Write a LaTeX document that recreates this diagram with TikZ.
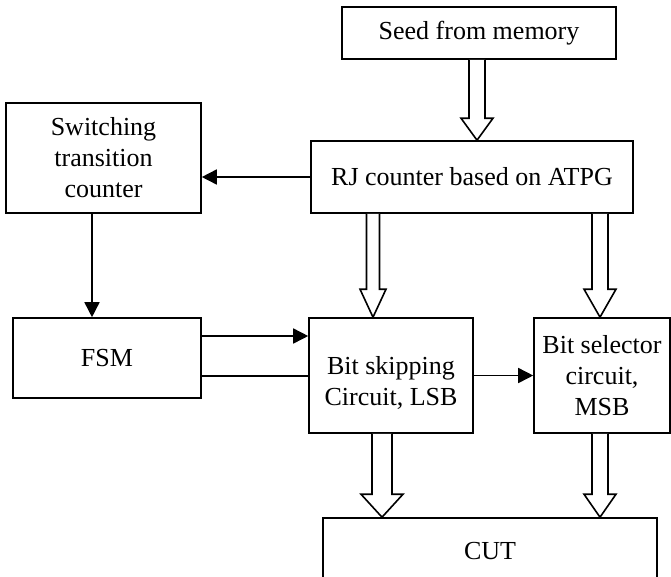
\documentclass[tikz,border=0pt]{standalone}
\usepackage{fontspec}
\setmainfont{Liberation Serif}
\usetikzlibrary{arrows.meta,calc}

% hollow block arrow pointing down: #1 start, #2 tip, #3 half shaft width,
% #4 half head width, #5 head length
\newcommand\fatarrow[5]{%
  \draw[blk, fill=white] let \p1=(#1), \p2=(#2) in
    (\x1-#3,\y1) -- (\x1-#3,\y2+#5) -- (\x1-#4,\y2+#5) -- (\x2,\y2)
    -- (\x1+#4,\y2+#5) -- (\x1+#3,\y2+#5) -- (\x1+#3,\y1);}

\begin{document}
\begin{tikzpicture}[x=1pt, y=-1pt,
  blk/.style={line width=1.6pt, line join=miter},
  box/.style={draw, line width=1.6pt, rectangle, inner sep=0pt, align=center,
    font=\fontsize{26}{31}\selectfont},
  arr/.style={line width=1.6pt, -{Triangle[length=15pt, width=15pt]}},
  ln/.style={line width=1.6pt}]
  \useasboundingbox (0,0) rectangle (671,576);
  \clip (0,0) rectangle (671,576);

  % blocks
  \node[box, minimum width=274pt, minimum height=52pt] (seed) at (479,33) {Seed from memory};
  \node[box, minimum width=322pt, minimum height=72pt] (rj) at (472,177) {RJ counter based on ATPG};
  \node[box, minimum width=195pt, minimum height=110pt] (switch) at (103.5,158) {Switching\\transition\\counter};
  \node[box, minimum width=188pt, minimum height=80pt] (fsm) at (107,358) {FSM};
  \node[box, minimum width=164pt, minimum height=115pt] (bskip) at (391,375.5)
    {\raisebox{-7pt}[\height][\depth]{\parbox{160pt}{\centering Bit skipping\\Circuit, LSB}}};
  \node[box, minimum width=136pt, minimum height=115pt] (bsel) at (602,375.5) {Bit selector\\circuit,\\MSB};
  \node[box, minimum width=334pt, minimum height=66pt] (cut) at (490,551) {CUT};

  % signal connectors
  \draw[arr] (rj.west) -- (switch.east |- rj.west);
  \draw[arr] (switch.south -| 92,0) -- (fsm.north -| 92,0);
  \draw[arr] (fsm.east |- 0,336) -- (bskip.west |- 0,336);
  \draw[ln] (fsm.east |- 0,376) -- (bskip.west |- 0,376);
  \draw[arr] (bskip.east) -- (bsel.west);

  % bus connectors
  \coordinate (a0s) at (seed.south -| 477,0);
  \coordinate (a0e) at (rj.north -| 477,0);
  \fatarrow{a0s}{a0e}{8pt}{16pt}{22pt}
  \coordinate (a1s) at (rj.south -| 373,0);
  \coordinate (a1e) at (bskip.north -| 373,0);
  \fatarrow{a1s}{a1e}{6.5pt}{13pt}{28pt}
  \coordinate (a2s) at (rj.south -| 600,0);
  \coordinate (a2e) at (bsel.north -| 600,0);
  \fatarrow{a2s}{a2e}{8pt}{16pt}{28pt}
  \coordinate (a3s) at (bskip.south -| 382,0);
  \coordinate (a3e) at (cut.north -| 382,0);
  \fatarrow{a3s}{a3e}{10pt}{21pt}{23pt}
  \coordinate (a4s) at (bsel.south -| 600,0);
  \coordinate (a4e) at (cut.north -| 600,0);
  \fatarrow{a4s}{a4e}{8pt}{16pt}{23pt}
\end{tikzpicture}
\end{document}
